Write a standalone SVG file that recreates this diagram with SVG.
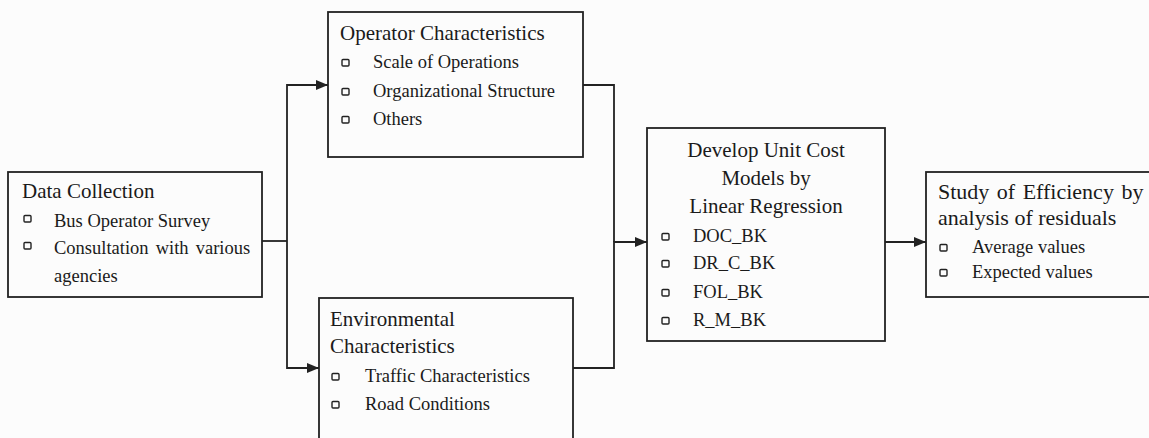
<svg xmlns="http://www.w3.org/2000/svg" width="1149" height="438" viewBox="0 0 1149 438">
<defs>
<style>
.box{fill:none;stroke:#222;stroke-width:1.8}
.conn{fill:none;stroke:#222;stroke-width:1.8}
.t{font-family:"Liberation Serif","Times New Roman",serif;font-size:21px;fill:#1a1a1a}
.i{font-family:"Liberation Serif","Times New Roman",serif;font-size:18.5px;fill:#1a1a1a}
.b{fill:none;stroke:#222;stroke-width:1.4}
</style>
<marker id="ah" viewBox="0 0 12 10" refX="12" refY="5" markerWidth="12" markerHeight="10" markerUnits="userSpaceOnUse" orient="auto">
<path d="M0,0 L12,5 L0,10 Z" fill="#222"/>
</marker>
</defs>
<rect width="1149" height="438" fill="#fcfcfc"/>
<g id="connectors">
<path class="conn" d="M262,241 H287"/>
<path class="conn" d="M287,241 V85 H328" marker-end="url(#ah)"/>
<path class="conn" d="M287,241 V368 H319" marker-end="url(#ah)"/>
<path class="conn" d="M583,85 H614 V242"/>
<path class="conn" d="M573,368 H614 V242 H647" marker-end="url(#ah)"/>
<path class="conn" d="M885,242 H926" marker-end="url(#ah)"/>
</g>
<g id="data-collection">
<rect class="box" x="8" y="172" width="254" height="125"/>
<text class="t" x="22" y="198">Data Collection</text>
<rect class="b" x="24" y="215.5" width="7" height="6.5" rx="1"/>
<text class="i" x="54" y="227">Bus Operator Survey</text>
<rect class="b" x="24" y="242.5" width="7" height="6.5" rx="1"/>
<text class="i" x="54" y="254" word-spacing="2.5">Consultation with various</text>
<text class="i" x="54" y="282">agencies</text>
</g>
<g id="operator-characteristics">
<rect class="box" x="328" y="12" width="255" height="145"/>
<text class="t" x="340" y="40">Operator Characteristics</text>
<rect class="b" x="342" y="59.5" width="7" height="6.5" rx="1"/>
<text class="i" x="373" y="68">Scale of Operations</text>
<rect class="b" x="342" y="88.5" width="7" height="6.5" rx="1"/>
<text class="i" x="373" y="97">Organizational Structure</text>
<rect class="b" x="342" y="116.5" width="7" height="6.5" rx="1"/>
<text class="i" x="373" y="125">Others</text>
</g>
<g id="environmental-characteristics">
<rect class="box" x="319" y="298" width="254" height="150"/>
<text class="t" x="330" y="326">Environmental</text>
<text class="t" x="330" y="353">Characteristics</text>
<rect class="b" x="332" y="373.5" width="7" height="6.5" rx="1"/>
<text class="i" x="365" y="382">Traffic Characteristics</text>
<rect class="b" x="332" y="401.5" width="7" height="6.5" rx="1"/>
<text class="i" x="365" y="410">Road Conditions</text>
</g>
<g id="develop-models">
<rect class="box" x="647" y="128" width="238" height="213"/>
<text class="t" x="766" y="157" text-anchor="middle">Develop Unit Cost</text>
<text class="t" x="766" y="185" text-anchor="middle">Models by</text>
<text class="t" x="766" y="213" text-anchor="middle">Linear Regression</text>
<rect class="b" x="662" y="233.5" width="7" height="6.5" rx="1"/>
<text class="i" x="693" y="242">DOC_BK</text>
<rect class="b" x="662" y="260.5" width="7" height="6.5" rx="1"/>
<text class="i" x="693" y="269">DR_C_BK</text>
<rect class="b" x="662" y="289.5" width="7" height="6.5" rx="1"/>
<text class="i" x="693" y="298">FOL_BK</text>
<rect class="b" x="662" y="317.5" width="7" height="6.5" rx="1"/>
<text class="i" x="693" y="326">R_M_BK</text>
</g>
<g id="study-efficiency">
<rect class="box" x="926" y="172" width="230" height="125"/>
<text class="t" x="938" y="199" style="font-size:22px" word-spacing="2">Study of Efficiency by</text>
<text class="t" x="938" y="225" style="font-size:22px">analysis of residuals</text>
<rect class="b" x="940" y="244.5" width="7" height="6.5" rx="1"/>
<text class="i" x="972" y="253">Average values</text>
<rect class="b" x="940" y="269.5" width="7" height="6.5" rx="1"/>
<text class="i" x="972" y="278">Expected values</text>
</g>
</svg>
